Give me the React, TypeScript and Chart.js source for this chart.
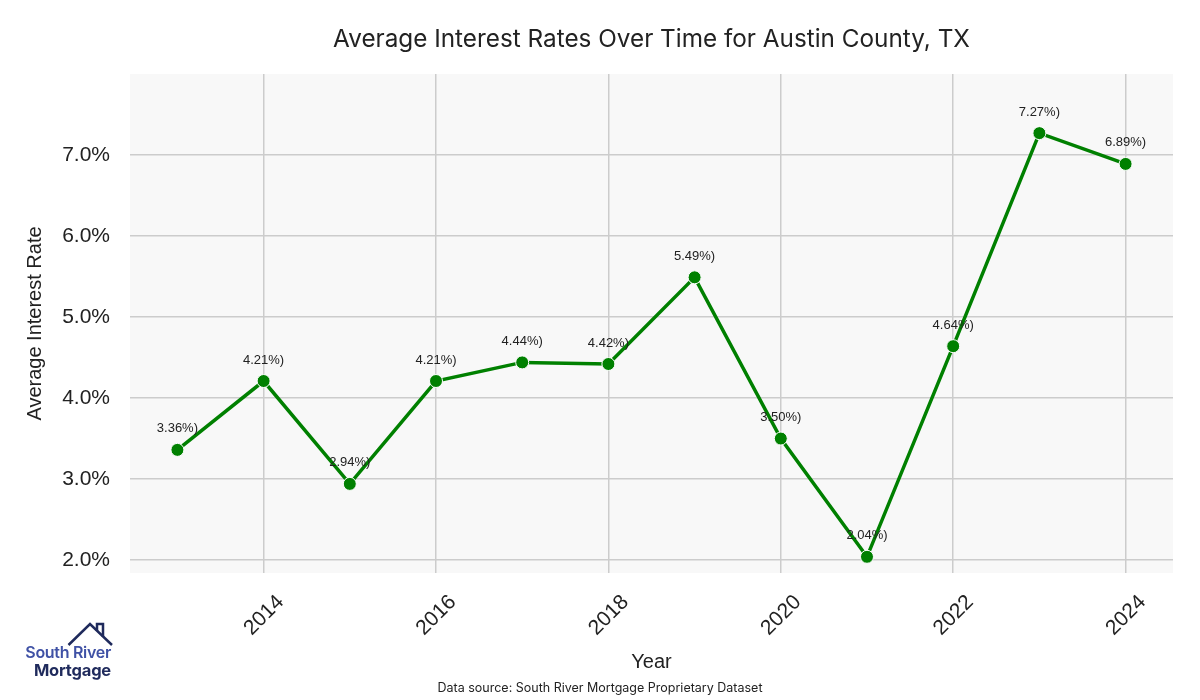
import React, { useEffect, useRef } from "react";
import { Chart, registerables } from "chart.js";

Chart.register(...registerables);

const years = [2013, 2014, 2015, 2016, 2017, 2018, 2019, 2020, 2021, 2022, 2023, 2024];
const rates = [3.36, 4.21, 2.94, 4.21, 4.44, 4.42, 5.49, 3.5, 2.04, 4.64, 7.27, 6.89];
const xTickValues = [2014, 2016, 2018, 2020, 2022, 2024];
const yTickValues = [2, 3, 4, 5, 6, 7];

const TITLE = "Average Interest Rates Over Time for Austin County, TX";
const SOURCE = "Data source: South River Mortgage Proprietary Dataset";

export default function App() {
  const ref = useRef<HTMLCanvasElement>(null);

  useEffect(() => {
    if (!ref.current) return;
    const bgPlugin = {
      id: "bgPlugin",
      beforeDraw(chart: any) {
        const { ctx, chartArea } = chart;
        ctx.save();
        ctx.fillStyle = "#ffffff";
        ctx.fillRect(0, 0, chart.width, chart.height);
        ctx.fillStyle = "#f8f8f8";
        ctx.fillRect(chartArea.left, chartArea.top, chartArea.right - chartArea.left, chartArea.bottom - chartArea.top);
        ctx.restore();
      },
      afterDraw(chart: any) {
        const { ctx, chartArea } = chart;
        ctx.save();
        ctx.fillStyle = "#222222";
        ctx.textAlign = "center";
        ctx.textBaseline = "middle";
        ctx.font = "24.3px Inter, 'Noto Sans', sans-serif";
        ctx.fillText(TITLE, (chartArea.left + chartArea.right) / 2, 40);
        ctx.font = "12.5px Inter, 'Noto Sans', sans-serif";
        ctx.fillText(SOURCE, 600, 688);
        // data labels
        const meta = chart.getDatasetMeta(0);
        ctx.font = "13px 'Liberation Sans', Arial, sans-serif";
        ctx.fillStyle = "#222222";
        meta.data.forEach((pt: any, i: number) => {
          ctx.fillText(rates[i].toFixed(2) + "%)", pt.x, pt.y - 21);
        });
        ctx.restore();
      },
    };

    const chart = new Chart(ref.current, {
      type: "line",
      data: {
        datasets: [
          {
            data: years.map((y, i) => ({ x: y, y: rates[i] })),
            borderColor: "#008000",
            backgroundColor: "#008000",
            borderWidth: 3.5,
            pointRadius: 6.5,
            pointBorderColor: "#ffffff",
            pointBorderWidth: 1,
            pointBackgroundColor: "#008000",
            tension: 0,
          },
        ],
      },
      options: {
        responsive: false,
        animation: false,
        layout: { padding: { top: 74, right: 27, left: 0, bottom: 26 } },
        plugins: { legend: { display: false }, tooltip: { enabled: false } },
        scales: {
          x: {
            type: "linear",
            min: 2012.45,
            max: 2024.55,
            afterBuildTicks: (axis: any) => {
              axis.ticks = xTickValues.map((v) => ({ value: v }));
            },
            afterFit: (axis: any) => {
              axis.height = 101;
              axis.paddingLeft = 0;
              axis.paddingRight = 0;
            },
            ticks: {
              minRotation: 45,
              maxRotation: 45,
              color: "#222222",
              font: { family: "'Liberation Sans', Arial, sans-serif", size: 21 },
              callback: (v: any) => String(v),
              padding: 17,
              labelOffset: 17,
            },
            grid: { color: "#cccccc", lineWidth: 1.5, drawTicks: false },
            border: { display: false },
            title: {
              display: true,
              text: "Year",
              color: "#222222",
              font: { family: "'Liberation Sans', Arial, sans-serif", size: 20 },
              padding: { top: 0, bottom: 0 },
            },
          },
          y: {
            min: 1.84,
            max: 8.0,
            afterBuildTicks: (axis: any) => {
              axis.ticks = yTickValues.map((v) => ({ value: v }));
            },
            afterFit: (axis: any) => {
              axis.width = 130;
            },
            ticks: {
              color: "#222222",
              font: { family: "'Liberation Sans', Arial, sans-serif", size: 21 },
              callback: (v: any) => Number(v).toFixed(1) + "%",
              padding: 20,
            },
            grid: { color: "#cccccc", lineWidth: 1.5, drawTicks: false },
            border: { display: false },
            title: {
              display: true,
              text: "Average Interest Rate",
              color: "#222222",
              font: { family: "'Liberation Sans', Arial, sans-serif", size: 20 },
              padding: { top: 23, bottom: 0 },
            },
          },
        },
      },
      plugins: [bgPlugin],
    } as any);
    return () => chart.destroy();
  }, []);

  return (
    <div style={{ position: "fixed", left: 0, top: 0, width: 1200, height: 700, background: "#fff" }}>
      <canvas ref={ref} width={1200} height={700} style={{ display: "block" }} />
      <svg width={120} height={80} style={{ position: "absolute", left: 0, top: 615 }}>
        <polyline
          points="68.5,30 90,9 112,30"
          fill="none"
          stroke="#1f2a5c"
          strokeWidth={2.5}
          strokeLinejoin="miter"
        />
        <polyline points="97,16 97,9 103,9 103,22" fill="none" stroke="#1f2a5c" strokeWidth={2.5} />
      </svg>
      <div
        style={{
          position: "absolute",
          left: 0,
          top: 643,
          width: 111,
          textAlign: "right",
          fontFamily: "Inter, 'Noto Sans', sans-serif",
          lineHeight: "18px",
        }}
      >
        <div style={{ color: "#3f51a5", fontSize: 16, fontWeight: 600, letterSpacing: -0.3 }}>South River</div>
        <div style={{ color: "#1f2a5c", fontSize: 16.5, fontWeight: 700, letterSpacing: -0.2 }}>Mortgage</div>
      </div>
    </div>
  );
}
